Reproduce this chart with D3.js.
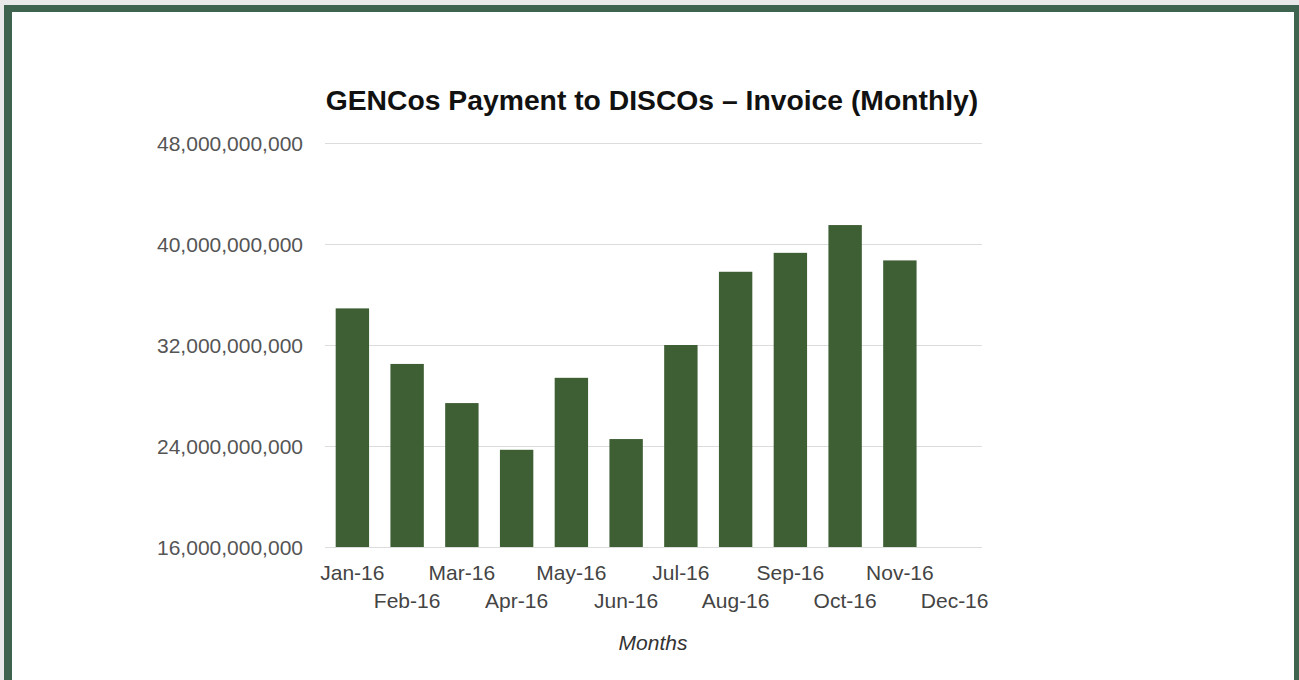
<!DOCTYPE html>
<html><head><meta charset="utf-8">
<script src="https://cdn.jsdelivr.net/npm/d3@7"></script>
<style>html,body{margin:0;padding:0;background:#e9e9e9;overflow:hidden}</style>
</head><body>
<svg id="c" width="1299" height="680"></svg>
<script>
const months = ["Jan-16","Feb-16","Mar-16","Apr-16","May-16","Jun-16","Jul-16","Aug-16","Sep-16","Oct-16","Nov-16","Dec-16"];
const invoice = [34.9e9, 30.5e9, 27.4e9, 23.7e9, 29.4e9, 24.55e9, 32.0e9, 37.8e9, 39.3e9, 41.5e9, 38.7e9, null];
const yTicks = [16e9, 24e9, 32e9, 40e9, 48e9];
const title = "GENCos Payment to DISCOs \u2013 Invoice (Monthly)";
const xTitle = "Months";

const svg = d3.select("#c");
const font = "'Liberation Sans', Arial, sans-serif";

// frame
svg.append("rect").attr("x",4).attr("y",5).attr("width",1295).attr("height",700).attr("fill","#3e6450");
svg.append("rect").attr("x",12).attr("y",12).attr("width",1282).attr("height",700).attr("fill","#ffffff");

const x = d3.scaleBand().domain(months).range([325, 982]).paddingInner(0.39).paddingOuter(0.195);
const y = d3.scaleLinear().domain([16e9, 48e9]).range([547, 143]);

// gridlines
const yAxis = d3.axisLeft(y).tickValues(yTicks).tickSize(-(982-325)).tickFormat(d3.format(",")).tickPadding(22);
const gy = svg.append("g").attr("transform","translate(325,0)").call(yAxis);
gy.select(".domain").remove();
gy.selectAll(".tick line").attr("stroke","#dcdcdc").attr("stroke-width",1.2);
gy.selectAll(".tick text").attr("fill","#555").style("font-family",font).style("font-size","21px").attr("dy","0.36em");

// bars
svg.append("g").selectAll("rect").data(months.map((m,i)=>({m, v: invoice[i]})).filter(d=>d.v!=null))
  .join("rect")
  .attr("x", d=>x(d.m)).attr("width", x.bandwidth())
  .attr("y", d=>y(d.v)).attr("height", d=>y(16e9)-y(d.v))
  .attr("fill","#3e5e34");

// x axis labels (staggered)
const xAxis = d3.axisBottom(x).tickSize(0).tickPadding(0);
const gx = svg.append("g").attr("transform","translate(0,547)").call(xAxis);
gx.select(".domain").remove();
gx.selectAll(".tick text")
  .attr("fill","#444").style("font-family",font).style("font-size","21px")
  .attr("y",(d,i)=> i%2===0 ? 25 : 53).attr("dy","0.36em");

// title
svg.append("text").attr("x",652).attr("y",100).attr("text-anchor","middle").attr("dy","0.36em")
  .style("font-family",font).style("font-size","28.3px").style("font-weight","bold").attr("fill","#111")
  .text(title);

svg.append("text").attr("x",653).attr("y",642).attr("text-anchor","middle").attr("dy","0.36em")
  .style("font-family",font).style("font-size","21px").style("font-style","italic").attr("fill","#333")
  .text(xTitle);
</script>
</body></html>
